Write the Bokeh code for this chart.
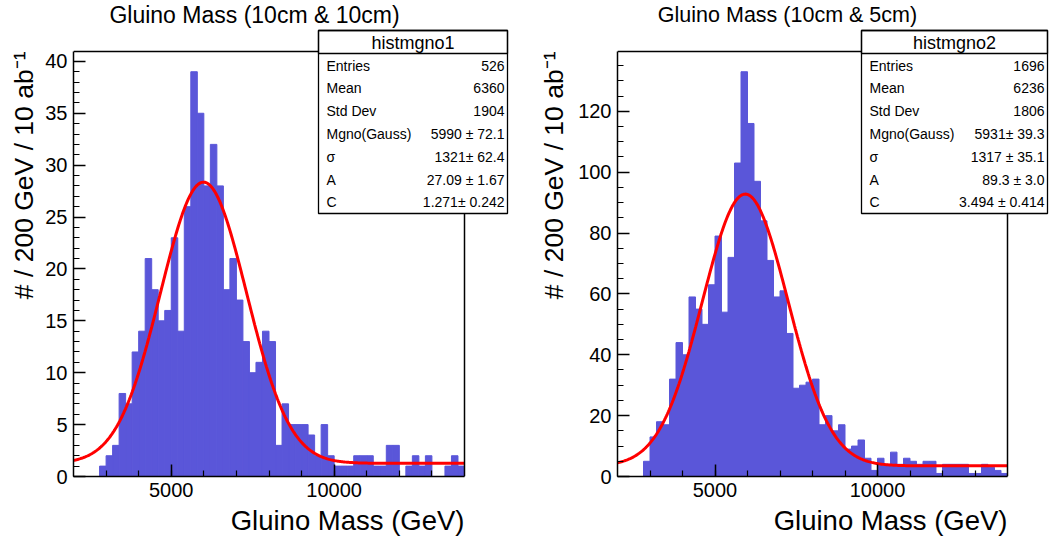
import numpy as np
from bokeh.plotting import figure
from bokeh.models import FixedTicker, Title, Label, BoxAnnotation, Range1d
from bokeh.layouts import row
from bokeh.embed import file_html
from bokeh.resources import INLINE

# ---------------- data ----------------
x_lo, x_hi, bin_w = 2000, 14000, 200

counts1 = [0, 0, 0, 0, 1, 2, 3, 8, 7, 12, 14, 21, 18, 15, 16, 23, 14, 26, 39, 35,
           28, 32, 28, 18, 21, 17, 13, 10, 11, 14, 13, 3, 7, 5, 5, 5, 4, 2, 5, 2,
           1, 1, 1, 2, 2, 2, 1, 1, 3, 3, 0, 1, 2, 1, 2, 0, 0, 1, 2, 1]
counts2 = [0, 0, 0, 0, 5, 13, 18, 17, 32, 44, 40, 59, 55, 50, 63, 79, 54, 72, 103, 133,
           116, 97, 84, 71, 59, 61, 47, 29, 30, 31, 32, 17, 20, 15, 17, 9, 10, 12, 6, 2,
           6, 4, 8, 4, 6, 5, 4, 5, 5, 1, 4, 4, 4, 4, 1, 1, 4, 3, 2, 1]

fit1 = {"M": 5990, "s": 1321, "A": 27.09, "C": 1.271}
fit2 = {"M": 5931, "s": 1317, "A": 89.3, "C": 3.494}

titles = ["Gluino Mass (10cm & 10cm)", "Gluino Mass (10cm & 5cm)"]
hnames = ["histmgno1", "histmgno2"]
stat_labels = ["Entries", "Mean", "Std Dev", "Mgno(Gauss)", "\u03c3", "A", "C"]
stats1 = ["526", "6360", "1904", "5990 \u00b1 72.1", "1321\u00b1 62.4", "27.09 \u00b1 1.67", "1.271\u00b1 0.242"]
stats2 = ["1696", "6236", "1806", "5931\u00b1 39.3", "1317 \u00b1 35.1", "89.3 \u00b1 3.0", "3.494 \u00b1 0.414"]

ymax1, ymax2 = 40.95, 139.65
yticks1 = [0, 5, 10, 15, 20, 25, 30, 35, 40]
yticks2 = [0, 20, 40, 60, 80, 100, 120]
xticks = [5000, 10000]
xlabel = "Gluino Mass (GeV)"
ylabel = "# / 200 GeV / 10 ab\u207b\u00b9"

FONT = "Liberation Sans"
BAR = "#5a56d9"
W, H = 525, 548


def panel(counts, ymax, ymajor, yminor, title, title_size, hname, stats, fit,
          hist_l, hist_r, title_cx, box_l, box_r, ylab_standoff):
    hist_t, hist_b = 51, 476
    ppx = (hist_r - hist_l) / (x_hi - x_lo)
    ppy = (hist_b - hist_t) / ymax
    x_end = x_hi + (W - hist_r) / ppx
    y_end = ymax + hist_t / ppy

    p = figure(width=W, height=H, x_range=Range1d(x_lo, x_end), y_range=Range1d(0, y_end),
               output_backend="svg", toolbar_location=None, title=None,
               min_border_left=hist_l, min_border_right=0, min_border_top=0,
               min_border_bottom=H - hist_b)
    p.grid.visible = False
    p.outline_line_color = None
    p.background_fill_color = "white"
    p.border_fill_color = "white"

    edges = np.arange(x_lo, x_hi + bin_w, bin_w)
    p.quad(left=edges[:-1], right=edges[1:], bottom=0, top=counts,
           fill_color=BAR, line_color=BAR, line_width=1)

    xs = np.linspace(x_lo, x_hi, 400)
    ys = fit["A"] * np.exp(-0.5 * ((xs - fit["M"]) / fit["s"]) ** 2) + fit["C"]
    p.line(xs, ys, line_color="#ff0000", line_width=3)

    # histogram frame (top and right sides)
    p.line([x_lo, x_hi, x_hi], [ymax, ymax, 0], line_color="black", line_width=1.5)

    p.xaxis.ticker = FixedTicker(ticks=xticks, minor_ticks=list(range(3000, 14000, 1000)))
    p.yaxis.ticker = FixedTicker(ticks=ymajor, minor_ticks=yminor)
    p.xaxis.bounds = (x_lo, x_hi)
    p.yaxis.bounds = (0, ymax)
    for ax in (p.xaxis, p.yaxis):
        ax.axis_line_color = "black"
        ax.axis_line_width = 1.5
        ax.major_tick_in = 12
        ax.major_tick_out = 0
        ax.minor_tick_in = 6
        ax.minor_tick_out = 0
        ax.major_tick_line_width = 1.5
        ax.minor_tick_line_width = 1.2
        ax.major_label_text_font = FONT
        ax.major_label_text_font_size = "20px"
        ax.major_label_text_color = "black"
    p.yaxis.major_label_standoff = 6
    p.xaxis.major_label_standoff = 6

    p.add_layout(Title(text=xlabel, align="right", offset=W - hist_r, text_font=FONT,
                       text_font_size="27.5px", text_font_style="normal",
                       text_color="black", standoff=7), "below")
    p.add_layout(Title(text=ylabel, align="right", offset=hist_t, text_font=FONT,
                       text_font_size="26.5px", text_font_style="normal",
                       text_color="black", standoff=ylab_standoff), "left")

    # page title
    p.add_layout(Label(x=title_cx, y=14, x_units="canvas", y_units="canvas", text=title,
                       text_align="center", text_baseline="middle", text_font=FONT,
                       text_font_size=title_size, text_color="black"))

    # stats box
    top, sep, bot = 30, 53, 213
    p.add_layout(BoxAnnotation(left=box_l, right=box_r, top=top, bottom=bot,
                               left_units="canvas", right_units="canvas",
                               top_units="canvas", bottom_units="canvas",
                               fill_color="white", fill_alpha=1.0,
                               line_color="black", line_width=1.3, line_alpha=1.0))
    p.add_layout(BoxAnnotation(left=box_l, right=box_r, top=top, bottom=sep,
                               left_units="canvas", right_units="canvas",
                               top_units="canvas", bottom_units="canvas",
                               fill_alpha=0.0, line_color="black", line_width=1.3, line_alpha=1.0))
    p.add_layout(Label(x=(box_l + box_r) / 2, y=42, x_units="canvas", y_units="canvas",
                       text=hname, text_align="center", text_baseline="middle",
                       text_font=FONT, text_font_size="18px", text_color="black"))
    for i, (lab, val) in enumerate(zip(stat_labels, stats)):
        yy = 65 + i * 22.8
        p.add_layout(Label(x=box_l + 8, y=yy, x_units="canvas", y_units="canvas",
                           text=lab, text_align="left", text_baseline="middle",
                           text_font=FONT, text_font_size="14px", text_color="black"))
        p.add_layout(Label(x=box_r - 3, y=yy, x_units="canvas", y_units="canvas",
                           text=val, text_align="right", text_baseline="middle",
                           text_font=FONT, text_font_size="14px", text_color="black"))
    return p


p1 = panel(counts1, ymax1, yticks1, list(range(0, 41)), titles[0], "23px", hnames[0], stats1, fit1,
           73, 464, 254, 318, 507, 7)
p2 = panel(counts2, ymax2, yticks2, list(range(0, 140, 5)), titles[1], "21.5px", hnames[1], stats2, fit2,
           92, 482, 262, 336, 522, 14)

layout = row(p1, p2)
open("out.html", "w").write(file_html(layout, INLINE))
